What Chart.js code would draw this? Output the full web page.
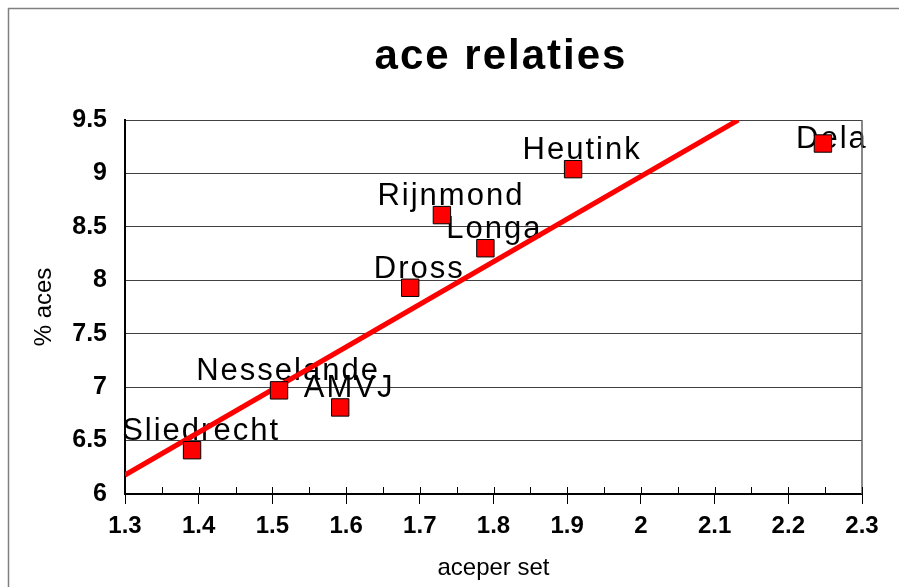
<!DOCTYPE html>
<html>
<head>
<meta charset="utf-8">
<title>ace relaties</title>
<script src="https://cdn.jsdelivr.net/npm/chart.js@4.4.1/dist/chart.umd.min.js"></script>
<style>
  html, body { margin: 0; padding: 0; background: #fff; }
  #wrap { width: 899px; height: 587px; position: relative; }
</style>
</head>
<body>
<div id="wrap"><canvas id="aces"></canvas></div>
<script>
// values
var clubs = ["Sliedrecht", "Nesselande", "AMVJ", "Dross", "Rijnmond", "Longa", "Heutink", "Dela"];
var acesPerSet = [1.391, 1.509, 1.592, 1.687, 1.730, 1.789, 1.908, 2.247];
var acePct = [6.41, 6.97, 6.81, 7.93, 8.61, 8.30, 9.04, 9.28];

// trend line as drawn (clipped at the top of the plot)
var trendX = [1.3, 2.132];
var trendY = [6.178, 9.5];

var xTicks = [1.3, 1.4, 1.5, 1.6, 1.7, 1.8, 1.9, 2, 2.1, 2.2, 2.3];
var xTickLabels = ["1.3", "1.4", "1.5", "1.6", "1.7", "1.8", "1.9", "2", "2.1", "2.2", "2.3"];
var yTicks = [6, 6.5, 7, 7.5, 8, 8.5, 9, 9.5];
var yTickLabels = ["6", "6.5", "7", "7.5", "8", "8.5", "9", "9.5"];

var FONT = '"Liberation Sans", Arial, Helvetica, sans-serif';

function points(xs, ys) {
  return xs.map(function (x, i) { return { x: x, y: ys[i] }; });
}

var decor = {
  id: "decor",
  beforeDraw: function (c) {
    var ctx = c.ctx;
    ctx.save();
    ctx.strokeStyle = "#808080";
    ctx.lineWidth = 1.5;
    ctx.strokeRect(8.5, 8.5, 1000, 1000);
    ctx.restore();
  },
  beforeDatasetsDraw: function (c) {
    var ctx = c.ctx, meta = c.getDatasetMeta(0), top = c.chartArea.top;
    ctx.save();
    ctx.font = "31px " + FONT;
    ctx.letterSpacing = "2px";
    ctx.fillStyle = "#000";
    ctx.textAlign = "center";
    ctx.textBaseline = "alphabetic";
    meta.data.forEach(function (p, i) {
      var y = Math.max(p.y - 10, top + 28);
      ctx.fillText(clubs[i], p.x + 9, y);
    });
    ctx.restore();
  },
  afterDraw: function (c) {
    var ctx = c.ctx, a = c.chartArea, xs = c.scales.x;
    ctx.save();
    // right edge of plot
    ctx.strokeStyle = "#606060";
    ctx.lineWidth = 1.5;
    ctx.beginPath();
    ctx.moveTo(a.right, a.top);
    ctx.lineTo(a.right, a.bottom);
    ctx.stroke();
    // small inside ticks on the x axis
    ctx.strokeStyle = "#000";
    ctx.lineWidth = 1;
    ctx.beginPath();
    for (var i = 0; i < xTicks.length; i++) {
      var px = Math.round(xs.getPixelForValue(xTicks[i])) + 0.5;
      ctx.moveTo(px, a.bottom);
      ctx.lineTo(px, a.bottom - 7);
      if (i < xTicks.length - 1) {
        var mx = Math.round(xs.getPixelForValue((xTicks[i] + xTicks[i + 1]) / 2)) + 0.5;
        ctx.moveTo(mx, a.bottom);
        ctx.lineTo(mx, a.bottom - 7);
      }
    }
    ctx.stroke();
    // title
    ctx.font = "bold 42px " + FONT;
    ctx.letterSpacing = "2px";
    ctx.fillStyle = "#000";
    ctx.textAlign = "center";
    ctx.textBaseline = "alphabetic";
    ctx.fillText("ace relaties", 501, 69);
    ctx.restore();
  }
};

new Chart(document.getElementById("aces"), {
  type: "scatter",
  data: {
    datasets: [
      {
        label: "clubs",
        data: points(acesPerSet, acePct),
        pointStyle: "rect",
        pointRadius: 12.3,
        pointHoverRadius: 12.3,
        backgroundColor: "#ff0000",
        borderColor: "#000",
        borderWidth: 1
      },
      {
        type: "line",
        label: "trend",
        data: points(trendX, trendY),
        borderColor: "#ff0000",
        borderWidth: 5,
        pointRadius: 0,
        fill: false
      }
    ]
  },
  plugins: [decor],
  options: {
    responsive: true,
    maintainAspectRatio: false,
    animation: false,
    layout: { padding: { top: 120, right: 37, left: 0, bottom: 0 } },
    plugins: { legend: { display: false }, tooltip: { enabled: false } },
    scales: {
      x: {
        type: "linear",
        min: 1.3,
        max: 2.3,
        afterBuildTicks: function (s) { s.ticks = xTicks.map(function (v) { return { value: v }; }); },
        afterFit: function (s) { s.height = 93; },
        grid: { drawOnChartArea: false, tickLength: 10, color: "#000", lineWidth: 1 },
        border: { color: "#000", width: 2 },
        ticks: {
          color: "#000",
          font: { family: FONT, size: 24, weight: "bold" },
          padding: 8,
          maxRotation: 0,
          autoSkip: false,
          callback: function (v, i) { return xTickLabels[i]; }
        },
        title: {
          display: true,
          text: "aceper set",
          color: "#000",
          font: { family: FONT, size: 24 },
          padding: { top: 0, bottom: 4 }
        }
      },
      y: {
        type: "linear",
        min: 6,
        max: 9.5,
        afterBuildTicks: function (s) { s.ticks = yTicks.map(function (v) { return { value: v }; }); },
        afterFit: function (s) { s.width = 125; },
        grid: { drawTicks: false, color: "#404040", lineWidth: 1 },
        border: { color: "#000", width: 2 },
        ticks: {
          color: "#000",
          font: { family: FONT, size: 25, weight: "bold" },
          padding: 18,
          callback: function (v, i) { return yTickLabels[i]; }
        },
        title: {
          display: true,
          text: "% aces",
          color: "#000",
          font: { family: FONT, size: 24 },
          padding: { top: 30, bottom: 0 }
        }
      }
    }
  }
});
</script>
</body>
</html>
